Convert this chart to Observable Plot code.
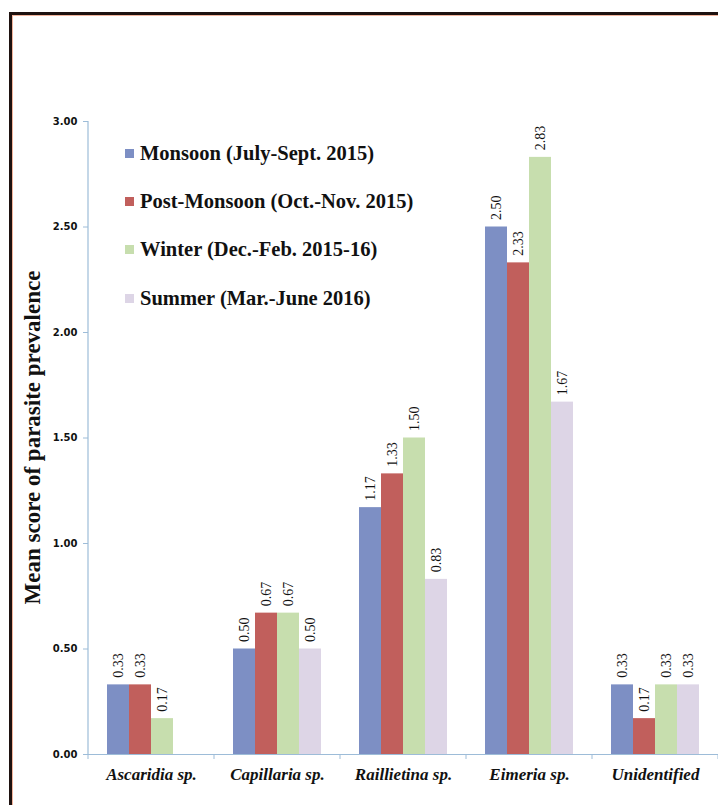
<!DOCTYPE html>
<html>
<head>
<meta charset="utf-8">
<script src="https://cdn.jsdelivr.net/npm/d3@7"></script>
<script src="https://cdn.jsdelivr.net/npm/@observablehq/plot@0.6"></script>
<style>
  body { margin: 0; background: #fff; }
  #wrap { position: relative; width: 718px; height: 805px; overflow: hidden; background: #fff; }
  #frame { position: absolute; left: 9px; top: 12px; width: 900px; height: 1000px;
           border-left: 3px solid #1e1210; border-top: 3px solid #1e1210;
           box-shadow: inset 1px 1px 0 #f2b49c; pointer-events: none; }
  #chart { position: absolute; left: 0; top: 0; }
  #legend { position: absolute; left: 125px; top: 129px;
            font-family: "Liberation Serif", "Times New Roman", serif; font-weight: bold; font-size: 20.5px; color: #111; }
  #legend .row { height: 48.3px; display: flex; align-items: center; white-space: nowrap; }
  #legend .sw { width: 9px; height: 9px; margin-right: 6px; flex: none; }
</style>
</head>
<body>
<div id="wrap">
  <div id="chart"></div>
  <div id="legend"></div>
  <div id="frame"></div>
</div>
<script>
const categories = ["Ascaridia sp.", "Capillaria sp.", "Raillietina sp.", "Eimeria sp.", "Unidentified"];
const seasons = ["Monsoon (July-Sept. 2015)", "Post-Monsoon (Oct.-Nov. 2015)", "Winter (Dec.-Feb. 2015-16)", "Summer (Mar.-June 2016)"];
const monsoon     = [0.33, 0.50, 1.17, 2.50, 0.33];
const postMonsoon = [0.33, 0.67, 1.33, 2.33, 0.17];
const winter      = [0.17, 0.67, 1.50, 2.83, 0.33];
const summer      = [null, 0.50, 0.83, 1.67, 0.33];
const seasonColors = ["#7d8fc4", "#c15f5c", "#c7deae", "#ddd5e6"];
const yTicks = [0, 0.5, 1, 1.5, 2, 2.5, 3];
const yTitle = "Mean score of parasite prevalence";

const series = [monsoon, postMonsoon, winter, summer];
const data = [];
categories.forEach((c, i) => series.forEach((s, j) => {
  if (s[i] != null) data.push({category: c, season: seasons[j], value: s[i]});
}));

const axisColor = "#9dbcd8";
const serif = "Liberation Serif, Times New Roman, serif";

const chart = Plot.plot({
  width: 718, height: 805,
  marginLeft: 88, marginRight: 0, marginTop: 121, marginBottom: 51,
  style: { background: "transparent", overflow: "visible" },
  fx: { domain: categories, padding: 0, label: null, axis: null },
  x: { domain: seasons, paddingInner: 0, paddingOuter: 0.74, axis: null },
  y: { domain: [0, 3], axis: null },
  color: { domain: seasons, range: seasonColors },
  marks: [
    Plot.barY(data, { fx: "category", x: "season", y: "value", fill: "season" }),
    Plot.text(data, { fx: "category", x: "season", y: "value", text: d => d.value.toFixed(2),
      rotate: -90, textAnchor: "start", dy: -7, fontFamily: serif, fontSize: 14, fill: "#111" }),
    Plot.ruleY([0], { stroke: axisColor, strokeWidth: 1.2 }),
    Plot.axisY({ ticks: yTicks, tickFormat: d3.format(".2f"), tickSize: 5, tickPadding: 6,
      stroke: axisColor, fill: "#111", fontFamily: "DejaVu Sans, sans-serif", fontWeight: "bold",
      fontSize: 10, label: null }),
    Plot.axisFx({ anchor: "bottom", tickSize: 0, tickPadding: 13, fontFamily: serif, fontWeight: "bold",
      fontStyle: "italic", fontSize: 17, fill: "#111", label: null })
  ]
});

// axis line and category boundary ticks from the plot's own scales
const fxS = chart.scale("fx");
const yS = chart.scale("y");
const svg = d3.select(chart);
const y0 = yS.apply(0), yTop = yS.apply(3);
const xLeft = fxS.apply(categories[0]);
svg.append("line").attr("x1", xLeft).attr("x2", xLeft).attr("y1", y0).attr("y2", yTop)
  .attr("stroke", axisColor).attr("stroke-width", 1.2);
const bounds = categories.map(c => fxS.apply(c)).concat([fxS.apply(categories[categories.length - 1]) + fxS.bandwidth]);
svg.append("g").selectAll("line").data(bounds).join("line")
  .attr("x1", d => d).attr("x2", d => d).attr("y1", y0).attr("y2", y0 + 5)
  .attr("stroke", axisColor);
svg.append("text")
  .attr("transform", `translate(35,${yS.apply(1.5)}) rotate(-90)`)
  .attr("text-anchor", "middle").attr("dominant-baseline", "middle")
  .attr("font-family", serif).attr("font-weight", "bold").attr("font-size", 23)
  .attr("fill", "#111").text(yTitle);

document.getElementById("chart").appendChild(chart);

const legend = d3.select("#legend");
seasons.forEach((s, i) => {
  const row = legend.append("div").attr("class", "row");
  row.append("div").attr("class", "sw").style("background", seasonColors[i]);
  row.append("span").text(s);
});
</script>
</body>
</html>
